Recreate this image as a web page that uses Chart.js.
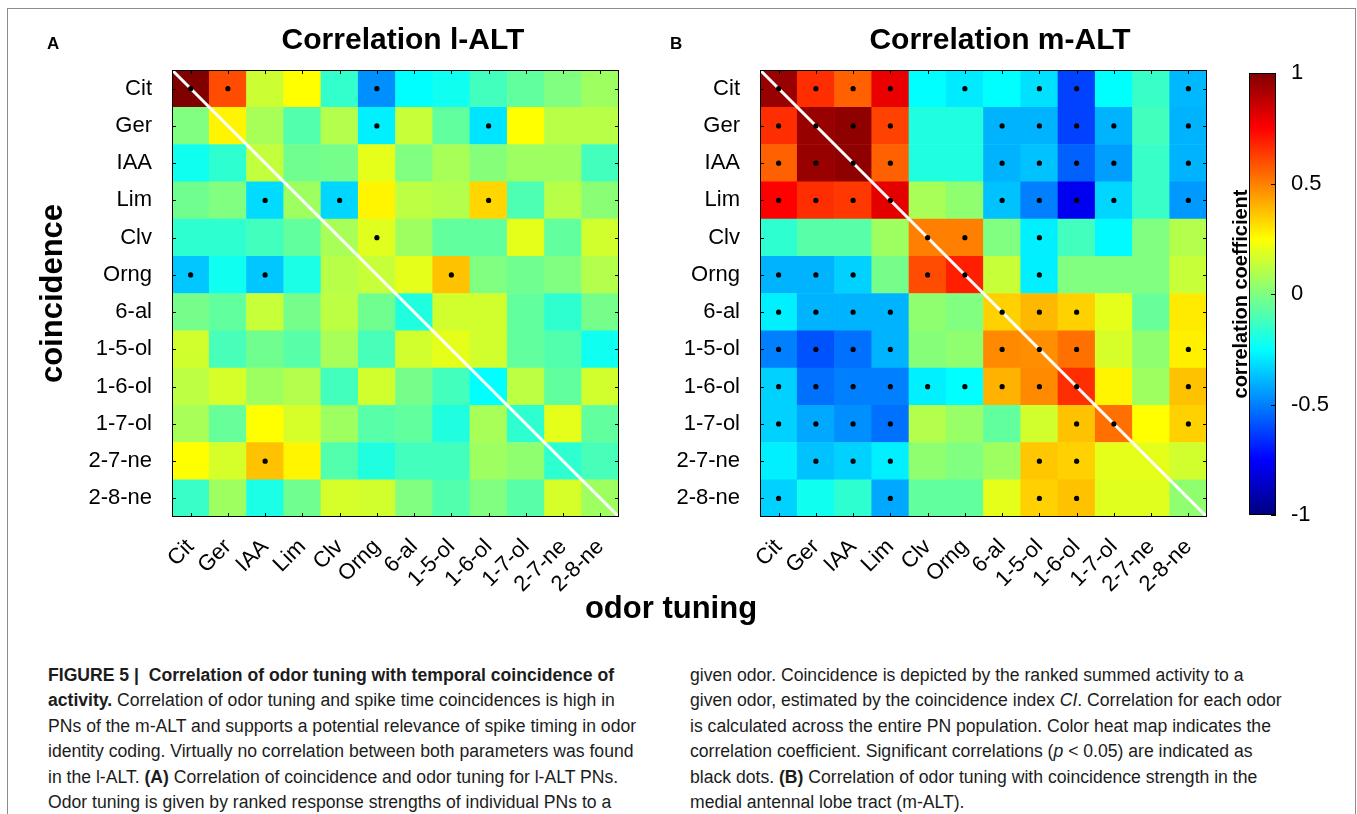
<!DOCTYPE html>
<html>
<head>
<meta charset="utf-8">
<script src="https://cdn.jsdelivr.net/npm/chart.js@4.4.1/dist/chart.umd.min.js"></script>
<style>
  html, body { margin: 0; padding: 0; background: #fff; }
  body { width: 1357px; height: 814px; position: relative; overflow: hidden;
         font-family: "Liberation Sans", Arial, Helvetica, sans-serif; color: #000; }
  .frame { position: absolute; left: 7px; top: 8px; width: 1347px; height: 900px;
           border: 1.5px solid #8c8c8c; border-bottom: none; }
  canvas { position: absolute; top: 0; }
  .panel { position: absolute; font-weight: bold; font-size: 17px; }
  .xlabel { position: absolute; font-weight: bold; font-size: 31px; left: 571px; width: 200px;
            text-align: center; top: 590px; }
  .caption { position: absolute; top: 663px; font-size: 17.6px; line-height: 25.4px; color: #1c1c1c; }
  .caption div { white-space: nowrap; }
</style>
</head>
<body>
<div class="frame"></div>
<canvas id="chartA" width="806" height="600" style="left:0px"></canvas>
<canvas id="chartB" width="680" height="600" style="left:660px"></canvas>
<canvas id="colorbar" width="177" height="600" style="left:1180px"></canvas>
<div class="panel" style="left:47px; top:34px">A</div>
<div class="panel" style="left:670px; top:34px">B</div>
<div class="xlabel">odor tuning</div>
<div class="caption" style="left:48px">
  <div><b>FIGURE 5 |&nbsp; Correlation of odor tuning with temporal coincidence of</b></div>
  <div><b>activity.</b> Correlation of odor tuning and spike time coincidences is high in</div>
  <div>PNs of the m-ALT and supports a potential relevance of spike timing in odor</div>
  <div>identity coding. Virtually no correlation between both parameters was found</div>
  <div>in the l-ALT. <b>(A)</b> Correlation of coincidence and odor tuning for l-ALT PNs.</div>
  <div>Odor tuning is given by ranked response strengths of individual PNs to a</div>
</div>
<div class="caption" style="left:690px">
  <div>given odor. Coincidence is depicted by the ranked summed activity to a</div>
  <div>given odor, estimated by the coincidence index <i>CI</i>. Correlation for each odor</div>
  <div>is calculated across the entire PN population. Color heat map indicates the</div>
  <div>correlation coefficient. Significant correlations (<i>p</i> &lt; 0.05) are indicated as</div>
  <div>black dots. <b>(B)</b> Correlation of odor tuning with coincidence strength in the</div>
  <div>medial antennal lobe tract (m-ALT).</div>
</div>

<script>
// odors, top row / left column first
const odors = ['Cit', 'Ger', 'IAA', 'Lim', 'Clv', 'Orng', '6-al', '1-5-ol', '1-6-ol', '1-7-ol', '2-7-ne', '2-8-ne'];

// correlation l-ALT (rows = coincidence, cols = odor tuning)
const corrLALT = [
  [ 1.00,  0.60,  0.15,  0.25, -0.15, -0.47, -0.25, -0.22, -0.12, -0.06,  0.00,  0.06],
  [ 0.00,  0.27,  0.08, -0.09,  0.10, -0.28,  0.14, -0.06, -0.30,  0.25,  0.11,  0.11],
  [-0.22, -0.16,  0.13, -0.03, -0.02,  0.20,  0.00,  0.08,  0.01,  0.06,  0.06, -0.12],
  [-0.03,  0.00, -0.32,  0.06, -0.33,  0.27,  0.12,  0.10,  0.33, -0.10,  0.11,  0.02],
  [-0.16, -0.16, -0.12, -0.06,  0.08,  0.19,  0.06, -0.06, -0.06,  0.20, -0.06,  0.16],
  [-0.36, -0.22, -0.36, -0.20,  0.11,  0.14,  0.20,  0.37,  0.00, -0.03,  0.00,  0.10],
  [-0.02, -0.06,  0.14, -0.02,  0.12, -0.03, -0.19,  0.16,  0.16, -0.06, -0.16, -0.02],
  [ 0.16, -0.11, -0.03, -0.08,  0.08, -0.11,  0.16,  0.20,  0.16, -0.06, -0.09, -0.22],
  [ 0.12,  0.17,  0.06,  0.10, -0.12,  0.16, -0.02, -0.12, -0.25,  0.12, -0.06,  0.16],
  [ 0.08, -0.05,  0.25,  0.17,  0.06, -0.08, -0.06, -0.19,  0.08, -0.16,  0.20, -0.06],
  [ 0.25,  0.17,  0.37,  0.27, -0.09, -0.19, -0.12, -0.12,  0.06,  0.03, -0.16, -0.11],
  [-0.14,  0.06, -0.20, -0.03,  0.17,  0.16,  0.00, -0.09,  0.00, -0.08,  0.17,  0.06]
];
// significant cells [row, col]
const sigLALT = [[0, 0], [0, 1], [0, 5], [1, 5], [1, 8], [3, 2], [3, 4], [3, 8], [4, 5], [5, 0], [5, 2], [5, 7], [10, 2]];

// correlation m-ALT
const corrMALT = [
  [ 0.95,  0.66,  0.56,  0.79, -0.25, -0.29, -0.25, -0.31, -0.62, -0.25, -0.14, -0.39],
  [ 0.66,  0.95,  0.97,  0.62, -0.19, -0.19, -0.40, -0.40, -0.62, -0.40, -0.12, -0.40],
  [ 0.56,  0.95,  0.97,  0.56, -0.19, -0.19, -0.40, -0.37, -0.56, -0.44, -0.14, -0.40],
  [ 0.75,  0.66,  0.64,  0.80,  0.08,  0.03, -0.37, -0.50, -0.78, -0.33, -0.14, -0.45],
  [-0.16, -0.08, -0.08,  0.06,  0.50,  0.50,  0.00, -0.28, -0.12, -0.26,  0.00,  0.10],
  [-0.40, -0.40, -0.34, -0.02,  0.60,  0.69,  0.14, -0.28,  0.00,  0.00,  0.00,  0.14],
  [-0.28, -0.40, -0.40, -0.40,  0.03,  0.00,  0.34,  0.39,  0.34,  0.20, -0.05,  0.29],
  [-0.50, -0.59, -0.53, -0.40,  0.01,  0.03,  0.48,  0.47,  0.53,  0.17,  0.03,  0.28],
  [-0.34, -0.53, -0.50, -0.50, -0.28, -0.25,  0.40,  0.48,  0.66,  0.27,  0.06,  0.37],
  [-0.34, -0.42, -0.47, -0.53,  0.10,  0.05, -0.06,  0.16,  0.37,  0.53,  0.25,  0.34],
  [-0.28, -0.37, -0.34, -0.28,  0.03,  0.00,  0.06,  0.36,  0.34,  0.20,  0.20,  0.16],
  [-0.34, -0.22, -0.16, -0.42, -0.06, -0.06,  0.20,  0.34,  0.37,  0.19,  0.19,  0.03]
];
const sigMALT = [
  [0, 0], [0, 1], [0, 2], [0, 3], [0, 5], [0, 7], [0, 8], [0, 11],
  [1, 0], [1, 1], [1, 2], [1, 3], [1, 6], [1, 7], [1, 8], [1, 9], [1, 11],
  [2, 0], [2, 1], [2, 2], [2, 3], [2, 6], [2, 7], [2, 8], [2, 9], [2, 11],
  [3, 0], [3, 1], [3, 2], [3, 3], [3, 6], [3, 7], [3, 8], [3, 9], [3, 11],
  [4, 4], [4, 5], [4, 7],
  [5, 0], [5, 1], [5, 2], [5, 4], [5, 5], [5, 7],
  [6, 0], [6, 1], [6, 2], [6, 3], [6, 6], [6, 7], [6, 8],
  [7, 0], [7, 1], [7, 2], [7, 3], [7, 6], [7, 7], [7, 8], [7, 11],
  [8, 0], [8, 1], [8, 2], [8, 3], [8, 4], [8, 5], [8, 6], [8, 7], [8, 8], [8, 11],
  [9, 0], [9, 1], [9, 2], [9, 3], [9, 8], [9, 9], [9, 11],
  [10, 1], [10, 2], [10, 3], [10, 7], [10, 8],
  [11, 0], [11, 3], [11, 7], [11, 8]
];

// colour bar
const cbRange = [-1, 1];
const cbTicks = [-1, -0.5, 0, 0.5, 1];

const FONT = '"Liberation Sans", Arial, Helvetica, sans-serif';
Chart.defaults.font.family = FONT;
Chart.defaults.color = '#000';

// MATLAB jet colormap, v in [-1, 1]
function jet(v) {
  const t = (v + 1) / 2;
  const c = x => Math.round(255 * Math.max(0, Math.min(1, x)));
  const r = c(Math.min(4 * t - 1.5, -4 * t + 4.5));
  const g = c(Math.min(4 * t - 0.5, -4 * t + 3.5));
  const b = c(Math.min(4 * t + 0.5, -4 * t + 2.5));
  return `rgb(${r},${g},${b})`;
}

// black box with inward tick marks, drawn on top like matlab does
const frame = {
  id: 'frame',
  afterDatasetsDraw(chart, args, opts) {
    const { ctx, chartArea: a } = chart;
    const x = chart.scales.x, y = chart.scales.y;
    const t = opts.tick || 4;
    ctx.save();
    ctx.strokeStyle = '#000';
    ctx.lineWidth = 1;
    ctx.beginPath();
    if (opts.xTicks) {
      x.ticks.forEach(tk => {
        const px = Math.round(x.getPixelForValue(tk.value)) + 0.5;
        ctx.moveTo(px, a.bottom); ctx.lineTo(px, a.bottom - t);
        ctx.moveTo(px, a.top); ctx.lineTo(px, a.top + t);
      });
    }
    y.ticks.forEach(tk => {
      const py = Math.round(y.getPixelForValue(tk.value)) + 0.5;
      if (opts.leftTicks !== false) { ctx.moveTo(a.left, py); ctx.lineTo(a.left + t, py); }
      ctx.moveTo(a.right, py); ctx.lineTo(a.right - t, py);
    });
    ctx.stroke();
    ctx.strokeRect(Math.round(a.left) + 0.5, Math.round(a.top) + 0.5,
                   Math.round(a.width) - 1, Math.round(a.height) - 1);
    ctx.restore();
  }
};

function heatChart(id, title, matrix, sig, yWidth, rightWidth, yTitle) {
  const cells = [];
  matrix.forEach((row, r) => row.forEach((v, c) => {
    cells.push({ x: c + 0.5, y: [11 - r, 12 - r], v: v });
  }));
  const dots = sig.map(([r, c]) => ({ x: c + 0.5, y: 11.5 - r }));

  return new Chart(document.getElementById(id), {
    type: 'bar',
    data: {
      datasets: [
        {
          type: 'scatter', data: dots, xAxisID: 'x', yAxisID: 'y', order: 1,
          pointRadius: 2.6, pointBackgroundColor: '#000', pointBorderWidth: 0
        },
        {
          type: 'line', data: [{ x: 0, y: 12 }, { x: 12, y: 0 }], xAxisID: 'x', yAxisID: 'y', order: 2,
          borderColor: '#fff', borderWidth: 3, pointRadius: 0
        },
        {
          type: 'bar', data: cells, xAxisID: 'x', yAxisID: 'y', order: 3,
          backgroundColor: ctx => ctx.raw ? jet(ctx.raw.v) : '#888',
          borderWidth: 0, barPercentage: 1, categoryPercentage: 1
        }
      ]
    },
    options: {
      responsive: false,
      animation: false,
      events: [],
      layout: { padding: 0 },
      plugins: {
        legend: { display: false },
        tooltip: { enabled: false },
        title: {
          display: true, text: title, color: '#000',
          font: { size: 30, weight: 'bold' },
          padding: { top: 23, bottom: 11 }
        },
        frame: { xTicks: true, tick: 4 }
      },
      scales: {
        x: {
          type: 'linear', position: 'bottom', min: 0, max: 12, offset: false,
          grid: { display: false }, border: { display: false },
          afterBuildTicks: s => { s.ticks = odors.map((_, i) => ({ value: i + 0.5 })); },
          ticks: {
            autoSkip: false, minRotation: 45, maxRotation: 45, padding: 9,
            font: { size: 22 }, color: '#000',
            callback: v => odors[Math.floor(v)]
          },
          afterFit: s => { s.height = 83; }
        },
        y: {
          type: 'linear', position: 'left', min: 0, max: 12,
          grid: { display: false }, border: { display: false },
          afterBuildTicks: s => { s.ticks = odors.map((_, i) => ({ value: 11.5 - i })); },
          ticks: {
            autoSkip: false, padding: 12, font: { size: 22 }, color: '#000',
            callback: v => odors[Math.round(11.5 - v)]
          },
          title: yTitle ? {
            display: true, text: yTitle, color: '#000',
            font: { size: 31, weight: 'bold' }, padding: { top: 35, bottom: 0 }
          } : { display: false },
          afterFit: s => { s.width = yWidth; }
        },
        // empty right axis, only keeps the plot where it sits on the page
        y2: {
          type: 'linear', position: 'right',
          grid: { display: false }, border: { display: false },
          ticks: { display: false },
          afterFit: s => { s.width = rightWidth; }
        }
      }
    },
    plugins: [frame]
  });
}

heatChart('chartA', 'Correlation l-ALT', corrLALT, sigLALT, 172, 187, 'coincidence');
heatChart('chartB', 'Correlation m-ALT', corrMALT, sigMALT, 100, 133, null);

// colour bar: one floating bar filled with the jet gradient
const jetStops = [0, 0.125, 0.375, 0.625, 0.875, 1];
new Chart(document.getElementById('colorbar'), {
  type: 'bar',
  data: {
    labels: ['cb'],
    datasets: [{
      data: [cbRange], xAxisID: 'x', yAxisID: 'y',
      borderWidth: 0, barPercentage: 1, categoryPercentage: 1,
      backgroundColor: ctx => {
        const a = ctx.chart.chartArea;
        if (!a) return '#888';
        const g = ctx.chart.ctx.createLinearGradient(0, a.bottom, 0, a.top);
        jetStops.forEach(s => g.addColorStop(s, jet(s * 2 - 1)));
        return g;
      }
    }]
  },
  options: {
    responsive: false,
    animation: false,
    events: [],
    layout: { padding: { top: 73, bottom: 85 } },
    plugins: {
      legend: { display: false },
      tooltip: { enabled: false },
      frame: { xTicks: false, leftTicks: false, tick: 5 }
    },
    scales: {
      x: { type: 'category', display: false, offset: true },
      y: {
        type: 'linear', position: 'right', min: cbRange[0], max: cbRange[1],
        grid: { display: false }, border: { display: false },
        afterBuildTicks: s => { s.ticks = cbTicks.map(v => ({ value: v })); },
        ticks: { padding: 7, font: { size: 22 }, color: '#000', callback: v => String(v) },
        afterFit: s => { s.width = 81; }
      },
      yl: {
        type: 'linear', position: 'left',
        grid: { display: false }, border: { display: false },
        ticks: { display: false },
        title: {
          display: true, text: 'correlation coefficient', color: '#000',
          font: { size: 20, weight: 'bold' }, padding: { top: 49, bottom: 0 }
        },
        afterFit: s => { s.width = 69; }
      }
    }
  },
  plugins: [frame]
});
</script>
</body>
</html>
